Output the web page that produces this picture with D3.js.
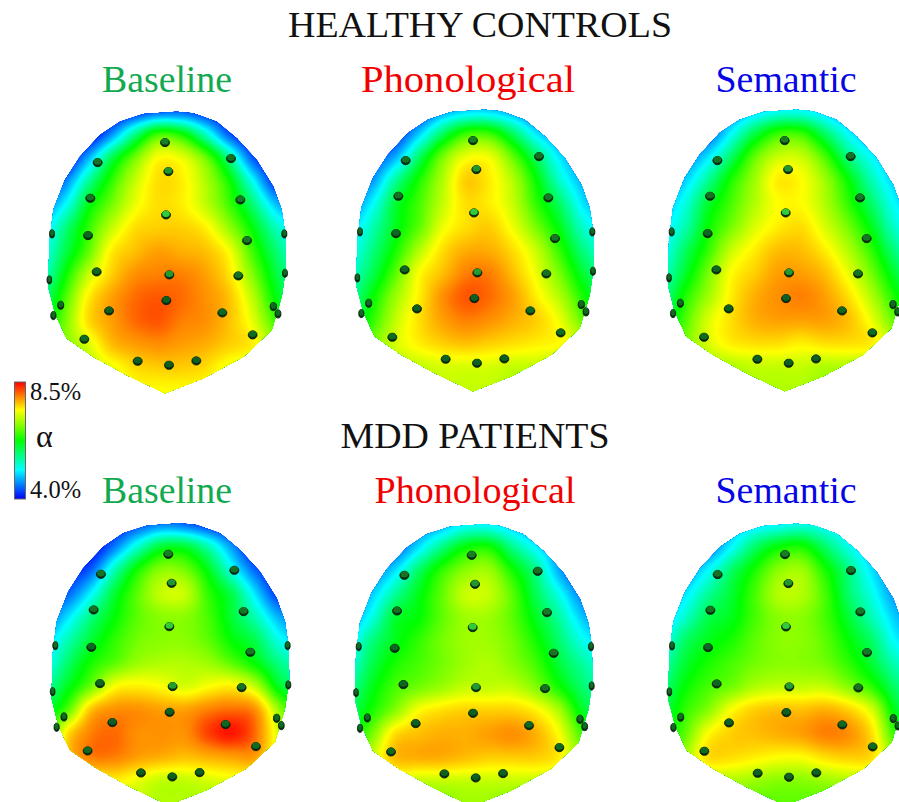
<!DOCTYPE html>
<html><head><meta charset="utf-8">
<script src="https://cdnjs.cloudflare.com/ajax/libs/d3/7.8.5/d3.min.js"></script>
<style>html,body{margin:0;background:#fff}svg{display:block}text{font-family:"Liberation Serif",serif}</style>
</head><body><svg id="c" width="899" height="802"></svg>
<script>
const colorStops=[4,4.5,5.0,5.5,6.0,6.55,7.2,8.0,8.6];
const barOffsets=[0,.125,.25,.375,.5,.625,.76,.88,1];
const colorRange=["#0000ff","#0080ff","#00ffff","#00ff80","#00ff00","#80ff00","#ffff00","#ff8000","#ff0000"];
const gridXs=[35,105,175,245,315,385,455,525,595,665,735,805];
const gridYs=[35,105,175,245,315,385,455,525,595,665,735,805,875];
const outlineX=[440,490,560,620,680,730,755,765,768,755,725,640,520,405,290,190,110,75,55,58,70,105,150,210,270,340];
const outlineY=[35,40,65,115,180,260,330,400,500,590,690,770,835,880,825,770,715,640,560,430,330,240,170,105,65,42];
const electrodeX=[405,603,203,415,631,181,408,763,66,651,174,765,58,200,418,625,409,730,92,744,70,237,577,668,163,323,417,499];
const electrodeY=[126,174,186,213,298,293,343,400,400,420,405,518,538,514,523,526,600,618,614,640,645,631,637,703,716,782,794,781];
const electrodeTone=[.3,.2,.2,.5,.25,.2,.95,.15,.15,.25,.1,.15,.15,.1,.55,.2,.05,.15,.15,.15,.15,.05,.12,.15,.15,.05,.05,.05];
const headDX=[0,308,619.7,3.3,306.7,620];
const headDY=[0,-2,-2,411.7,412.7,412];

const gridHCBaseline=[
[4,4,4,4,4.2,4.4,4.4,4.2,4,4,4,4],
[4,4,4,4.6,5.5,6.3,6.1,5.3,4.4,4,4,4],
[4,4,4.7,5.7,6.5,7.2,7.1,6.5,5.5,4.4,4,4],
[4.1,4.5,5.4,6.2,6.9,7.4,7.3,6.8,6.1,5.1,4.2,4],
[4.5,5,5.9,6.5,7.1,7.4,7.3,6.9,6.3,5.6,4.8,4.4],
[4.8,5.5,6.2,6.9,7.4,7.5,7.5,7.3,6.7,6,5.3,4.9],
[5,5.7,6.4,7.3,7.6,7.8,7.7,7.6,7.2,6.3,5.6,5.1],
[5.2,6,6.9,7.5,7.9,8,8,7.8,7.4,6.6,5.8,5.3],
[5.5,6.3,7.3,7.8,8.1,8.2,8.1,7.9,7.6,6.9,6,5.5],
[5.8,6.5,7.4,7.8,8.1,8.2,8,7.9,7.6,7.1,6.3,5.8],
[6.2,6.6,7,7.6,7.8,7.9,7.8,7.7,7.5,7.3,6.7,6.3],
[6.6,6.8,6.9,7.1,7.4,7.5,7.5,7.4,7.1,6.9,6.8,6.6],
[6.8,6.9,7,7.1,7.2,7.2,7.2,7.2,7.1,7,6.9,6.8]];
const gridHCPhonological=[
[4.2,4.2,4.2,4.2,4.6,4.8,4.8,4.6,4.3,4.2,4.2,4.2],
[4.2,4.2,4.2,4.8,5.6,6.2,6.2,5.6,4.9,4.5,4.2,4.2],
[4.3,4.3,4.7,5.6,6.5,7.1,7.1,6.4,5.6,4.9,4.5,4.4],
[4.4,4.6,5.4,6.1,6.8,7.5,7.3,6.8,6,5.2,4.7,4.5],
[4.5,5,5.8,6.3,6.9,7.4,7.3,6.9,6.2,5.6,4.9,4.6],
[4.8,5.3,5.9,6.4,7.1,7.4,7.5,7.1,6.5,5.9,5.2,4.9],
[5,5.5,6.1,6.8,7.4,7.7,7.7,7.4,6.9,6.2,5.5,5.1],
[5.2,5.7,6.4,7.2,7.6,8,8,7.6,7.1,6.5,5.8,5.4],
[5.4,6,6.7,7.3,7.9,8.2,8.1,7.8,7.3,6.8,6.1,5.6],
[5.6,6.2,6.9,7.4,7.8,8,7.9,7.7,7.5,7.1,6.4,5.9],
[6,6.5,7,7.3,7.5,7.6,7.5,7.4,7.3,7.2,6.9,6.6],
[6.4,6.6,6.8,6.9,7,7,7,6.9,6.9,6.8,6.8,6.6],
[6.6,6.7,6.8,6.8,6.9,6.9,6.9,6.8,6.8,6.8,6.7,6.6]];
const gridHCSemantic=[
[4.4,4.4,4.4,4.5,4.8,5,5,4.8,4.5,4.4,4.4,4.4],
[4.4,4.4,4.4,5,5.7,6.2,6.2,5.6,5,4.6,4.4,4.4],
[4.4,4.5,4.9,5.6,6.4,6.9,6.9,6.3,5.5,5,4.6,4.4],
[4.5,4.8,5.4,6.1,6.7,7.3,7.2,6.7,6,5.3,4.8,4.6],
[4.7,5.1,5.8,6.3,6.8,7.2,7.2,6.8,6.2,5.6,5,4.7],
[4.9,5.3,6,6.5,7,7.3,7.4,7,6.5,5.9,5.2,4.9],
[5,5.6,6.2,6.9,7.3,7.6,7.6,7.3,6.8,6.2,5.5,5.1],
[5.2,5.8,6.5,7.2,7.5,7.8,7.8,7.6,7.1,6.5,5.8,5.3],
[5.4,6.1,6.7,7.3,7.7,7.9,8,7.8,7.4,6.8,6.1,5.6],
[5.6,6.3,7,7.4,7.7,7.8,7.8,7.8,7.6,7.1,6.4,5.9],
[6,6.5,7,7.3,7.4,7.4,7.3,7.4,7.4,7.3,6.8,6.5],
[6.4,6.6,6.7,6.8,6.9,6.9,6.9,6.8,6.8,6.7,6.6,6.5],
[6.5,6.6,6.6,6.7,6.8,6.8,6.8,6.7,6.6,6.6,6.5,6.5]];
const gridMDDBaseline=[
[4,4,4,4.1,4.3,4.5,4.4,4.2,4,4,4,4],
[4,4,4,4.5,5.2,5.8,5.8,5.3,4.6,4,4,4],
[4,4.1,4.4,5.3,6.1,6.6,6.5,5.9,5.1,4.4,4,4],
[4.2,4.4,5,5.8,6.4,6.9,6.9,6.2,5.7,4.9,4.2,4.1],
[4.4,4.9,5.5,6,6.4,6.6,6.6,6.3,5.8,5.3,4.7,4.4],
[4.8,5.3,5.8,6.2,6.5,6.6,6.6,6.4,6,5.7,5.1,4.8],
[5,5.6,6.1,6.4,6.7,6.8,6.8,6.7,6.4,6,5.5,5.2],
[5.4,5.9,6.5,7.2,7.3,7.2,7,7.2,7.3,6.9,5.9,5.6],
[5.8,6.4,7.6,7.9,7.9,7.8,7.8,8,8.1,7.9,6.7,5.9],
[6,7.4,8,8.1,7.9,7.9,7.9,8.3,8.5,8.1,7,6.3],
[6,7.5,8,8,7.8,7.7,7.6,7.7,7.8,7.8,7,6.3],
[6.2,6.8,7.2,7.3,7.1,6.9,6.9,7,7.1,7.1,6.8,6.4],
[6.4,6.6,6.8,6.9,6.9,6.8,6.8,6.8,6.8,6.7,6.6,6.4]];
const gridMDDPhonological=[
[4.4,4.4,4.4,4.5,4.7,5,5,4.8,4.5,4.2,4.2,4.2],
[4.4,4.4,4.4,4.9,5.5,6,6.1,5.5,5,4.5,4.2,4.2],
[4.4,4.5,4.9,5.6,6.2,6.6,6.7,6.1,5.5,4.7,4.2,4.2],
[4.5,4.8,5.4,5.9,6.4,6.9,6.9,6.4,5.7,5.1,4.5,4.3],
[4.6,5.1,5.8,6,6.4,6.7,6.7,6.4,5.9,5.4,4.8,4.5],
[4.9,5.5,5.9,6.2,6.5,6.7,6.7,6.5,6.1,5.6,5.1,4.8],
[5.1,5.7,6.1,6.3,6.5,6.7,6.8,6.6,6.3,5.8,5.4,5.1],
[5.4,5.9,6.3,6.5,6.7,6.9,6.9,6.9,6.6,6.1,5.6,5.3],
[5.6,6.1,6.6,7.2,7.4,7.5,7.5,7.5,7.3,6.8,5.9,5.6],
[5.9,6.5,7.4,7.6,7.7,7.7,7.8,7.9,7.7,7.2,6.3,5.9],
[6.1,6.9,7.6,7.7,7.7,7.6,7.5,7.5,7.5,7.3,6.6,6.1],
[6.2,6.8,7,6.9,6.9,6.9,6.9,6.9,6.9,6.8,6.5,6.2],
[6.3,6.5,6.6,6.6,6.6,6.7,6.7,6.6,6.6,6.5,6.3,6.2]];
const gridMDDSemantic=[
[4.5,4.5,4.5,4.7,4.9,5,5.1,5,4.8,4.5,4.5,4.5],
[4.5,4.5,4.5,5,5.6,6,6.1,5.6,5.1,4.7,4.5,4.5],
[4.5,4.6,5,5.6,6.1,6.6,6.7,6.1,5.5,4.9,4.5,4.5],
[4.6,4.9,5.4,5.8,6.3,6.8,6.8,6.3,5.6,5.1,4.6,4.5],
[4.7,5.2,5.7,5.9,6.3,6.6,6.6,6.3,5.8,5.3,4.8,4.5],
[5,5.6,5.9,6.1,6.4,6.6,6.6,6.4,6,5.6,5,4.8],
[5.3,5.8,6.1,6.3,6.5,6.6,6.6,6.5,6.2,5.8,5.3,5],
[5.5,6,6.3,6.5,6.8,6.9,6.9,6.9,6.6,6.2,5.6,5.3],
[5.7,6.2,6.6,7.2,7.5,7.6,7.6,7.7,7.5,7,5.9,5.5],
[5.9,6.4,7.2,7.5,7.6,7.7,7.8,8,7.9,7.4,6.2,5.8],
[6.1,6.7,7.4,7.4,7.3,7.2,7.2,7.4,7.5,7.4,6.6,6.1],
[6.2,6.7,6.8,6.8,6.7,6.6,6.6,6.7,6.8,6.8,6.5,6.2],
[6.3,6.4,6.5,6.5,6.4,6.4,6.4,6.4,6.5,6.4,6.3,6.2]];
const headGrids=[gridHCBaseline,gridHCPhonological,gridHCSemantic,gridMDDBaseline,gridMDDPhonological,gridMDDSemantic];

const titleTexts=["HEALTHY CONTROLS","MDD PATIENTS"];
const conditionTexts=["Baseline","Phonological","Semantic","Baseline","Phonological","Semantic"];
const conditionColors=["#12a950","#f00000","#0505e6","#12a950","#f00000","#0505e6"];
const barLabels=["8.5%","\u03b1","4.0%"];

const svg=d3.select("#c");
const color=d3.scaleLinear().domain(colorStops).range(colorRange).clamp(true);
const ux=d3.scaleLinear().domain([0,840]).range([0,280]);
const uy=d3.scaleLinear().domain([0,900]).range([0,300]);
const W=280,H=300;
const cr=(a,b,c,d,t)=>0.5*((2*b)+(c-a)*t+(2*a-5*b+4*c-d)*t*t+(3*b-a-3*c+d)*t*t*t);
function field(g){
  const nx=gridXs.length,ny=gridYs.length,out=new Float64Array(W*H);
  const cl=(v,n)=>Math.max(0,Math.min(n-1,v));
  const ix=d3.scaleLinear().domain(d3.extent(gridXs)).range([0,nx-1]);
  const iy=d3.scaleLinear().domain(d3.extent(gridYs)).range([0,ny-1]);
  for(let py=0;py<H;py++){
    const fy=cl(iy(uy.invert(py+.5)),ny),j=Math.min(ny-2,Math.floor(fy)),ty=fy-j;
    for(let px=0;px<W;px++){
      const fx=cl(ix(ux.invert(px+.5)),nx),i=Math.min(nx-2,Math.floor(fx)),tx=fx-i;
      const col=[-1,0,1,2].map(dj=>{const r=g[cl(j+dj,ny)];
        return cr(r[cl(i-1,nx)],r[i],r[i+1],r[cl(i+2,nx)],tx);});
      out[py*W+px]=cr(col[0],col[1],col[2],col[3],ty);
    }
  }
  return out;
}
const thresholds=d3.range(4.015,8.6,0.025);
const contours=d3.contours().size([W,H]).smooth(true).thresholds(thresholds);
const geo=d3.geoPath();
const outlinePath=d3.line().x(i=>ux(outlineX[i])).y(i=>uy(outlineY[i])).curve(d3.curveLinearClosed)(d3.range(outlineX.length));
const defs=svg.append("defs");
defs.append("clipPath").attr("id","head").append("path").attr("d",outlinePath);
const soft=defs.append("filter").attr("id","soft").attr("x","-20%").attr("y","-20%").attr("width","140%").attr("height","140%");
soft.append("feGaussianBlur").attr("stdDeviation",0.3);

const toneColor=d3.scaleLinear().domain([0,1]).range(["#0a5a1e","#35d23c"]);
const rxScale=d3.scaleLinear().domain([250,360]).range([4.5,2.3]).clamp(true);

headGrids.forEach((g,h)=>{
  const head=svg.append("g").attr("transform",`translate(${30+headDX[h]},${100+headDY[h]})`);
  const map=head.append("g").attr("clip-path","url(#head)");
  map.append("path").attr("d",outlinePath).attr("fill",color(4));
  const f=field(g);
  map.selectAll("path.c").data(contours(f)).join("path").attr("class","c")
    .attr("d",geo).attr("fill",d=>color(d.value+0.012));
  const el=head.append("g").attr("filter","url(#soft)").selectAll("g").data(d3.range(electrodeX.length)).join("g")
    .attr("transform",i=>`translate(${ux(electrodeX[i])},${uy(electrodeY[i])})`);
  el.append("ellipse").attr("cy",.6).attr("rx",i=>rxScale(Math.abs(electrodeX[i]-415))).attr("ry",4.1)
    .attr("fill","#06300f").attr("stroke","#0a140a").attr("stroke-width",.8);
  el.append("ellipse").attr("cy",-.5).attr("rx",i=>rxScale(Math.abs(electrodeX[i]-415))-.7).attr("ry",3.2)
    .attr("fill",i=>toneColor(electrodeTone[i]));
});

const titles=[[480,37,384,titleTexts[0],36],[475,448,269,titleTexts[1],36]];
svg.selectAll("text.t").data(titles).join("text").attr("class","t")
  .attr("x",d=>d[0]).attr("y",d=>d[1]).attr("text-anchor","middle")
  .attr("font-size",d=>d[4]).attr("fill","#111")
  .attr("textLength",d=>d[2]).attr("lengthAdjust","spacingAndGlyphs").text(d=>d[3]);
const cx=[167,468,786,167,475,786],cy=[92,92,92,503,503,503],cw=[130,214,141,130,201,141];
svg.selectAll("text.k").data(conditionTexts).join("text").attr("class","k")
  .attr("x",(d,i)=>cx[i]).attr("y",(d,i)=>cy[i]).attr("text-anchor","middle")
  .attr("font-size",38).attr("fill",(d,i)=>conditionColors[i])
  .attr("textLength",(d,i)=>cw[i]).attr("lengthAdjust","spacingAndGlyphs").text(d=>d);

const grad=defs.append("linearGradient").attr("id","bar").attr("x1",0).attr("x2",0).attr("y1",1).attr("y2",0);
barOffsets.forEach((s,i)=>grad.append("stop").attr("offset",s).attr("stop-color",colorRange[i]));
svg.append("rect").attr("x",14.5).attr("y",382).attr("width",11).attr("height",117)
  .attr("fill","url(#bar)").attr("stroke","#666").attr("stroke-width",1);
const by=[400,447,498],bx=[30,36,30],bs=[24.5,32,24.5];
svg.selectAll("text.b").data(barLabels).join("text").attr("class","b")
  .attr("x",(d,i)=>bx[i]).attr("y",(d,i)=>by[i]).attr("font-size",(d,i)=>bs[i]).attr("fill","#111").text(d=>d);
</script></body></html>
